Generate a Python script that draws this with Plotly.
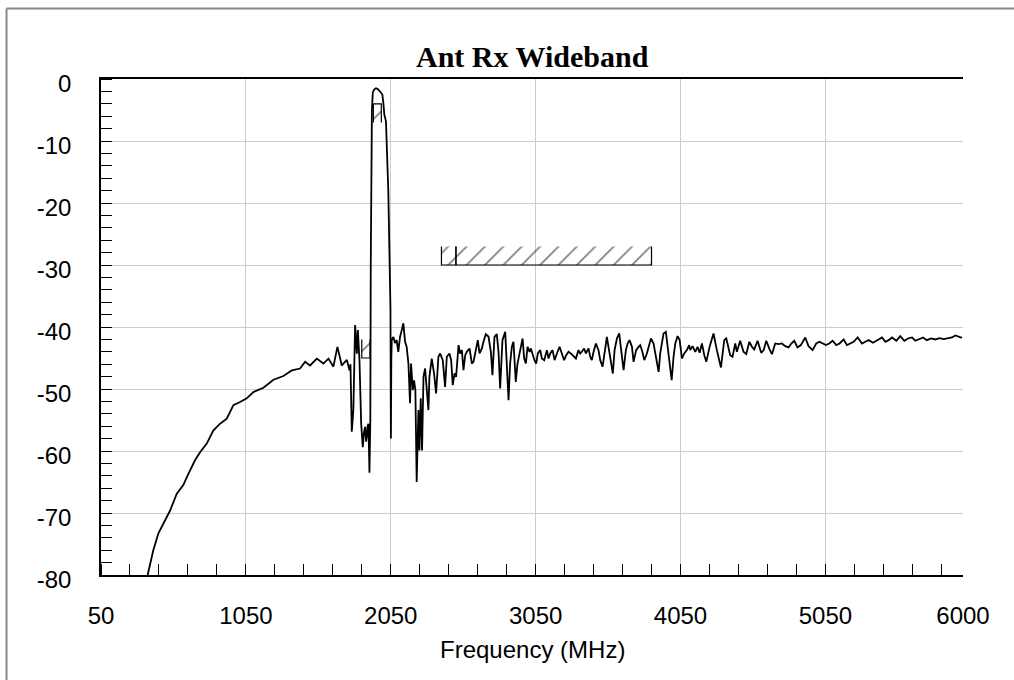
import plotly.graph_objects as go

# ---- measured trace (frequency in MHz, level in dB) ----
freq_mhz = [
    372, 411, 446, 492, 527, 573, 618, 653, 699, 734, 780, 825, 872, 918, 964,
    1010, 1056, 1102, 1171, 1240, 1309, 1367, 1424, 1459, 1493, 1540, 1585, 1620,
    1654, 1682, 1712, 1723, 1747, 1765, 1772, 1781, 1792, 1804, 1816, 1823, 1834,
    1846, 1857, 1865, 1873, 1880, 1885, 1890, 1896, 1903, 1909, 1912, 1916, 1920,
    1926, 1935, 1948, 1960, 1972, 1992, 1999, 2006, 2017, 2033, 2048, 2051, 2054,
    2057, 2068, 2080, 2091, 2102, 2114, 2126, 2137, 2149, 2160, 2172, 2183, 2190,
    2202, 2211, 2220, 2229, 2236, 2241, 2248, 2257, 2266, 2276, 2287, 2299, 2310,
    2317, 2333, 2349, 2363, 2379,
    2391, 2409, 2425, 2437, 2455, 2467, 2478, 2490, 2501, 2518, 2529, 2541, 2552,
    2564, 2575, 2594, 2610, 2621, 2637, 2651, 2663, 2679, 2690, 2706, 2725, 2741,
    2752, 2766, 2782, 2794, 2805, 2821, 2840, 2851, 2863, 2874, 2886, 2897, 2913,
    2925, 2943, 2960, 2971, 2983, 2994, 3008, 3017, 3031, 3042, 3054, 3065, 3082,
    3093, 3109, 3128, 3139, 3151, 3167, 3181, 3197, 3215, 3231, 3247, 3261, 3277,
    3293, 3312, 3328, 3346, 3358, 3369, 3385, 3397, 3415, 3427, 3438, 3450, 3466,
    3484, 3496, 3512, 3526, 3542, 3553, 3570, 3583, 3595, 3611, 3627, 3641, 3657,
    3673, 3685, 3698, 3715, 3726, 3744, 3761, 3772, 3784, 3800, 3818, 3830, 3846,
    3864, 3883, 3899, 3910, 3922, 3933, 3949, 3963, 3975, 3989, 4002, 4014, 4030,
    4044, 4060, 4076, 4094, 4110,
    4117, 4133, 4152, 4168, 4182, 4198, 4214, 4228, 4251, 4278, 4301, 4329, 4352,
    4366, 4393, 4409, 4428, 4439, 4462, 4485, 4504, 4525, 4543, 4559, 4582, 4607,
    4624, 4642, 4665, 4681, 4704, 4727, 4750, 4773, 4796, 4815, 4835, 4858, 4881,
    4911, 4934, 4962, 4987, 5010, 5033, 5054, 5077, 5100, 5125, 5148, 5176, 5199,
    5222, 5245, 5273, 5303, 5326, 5349, 5379, 5406, 5441, 5464, 5487, 5510, 5540,
    5567, 5595, 5620, 5648, 5671, 5701, 5724, 5751, 5779, 5809, 5839, 5867, 5901,
    5924, 5947, 5970, 5993,
]
gain_db = [
    -80.0, -76.0, -73.3, -71.2, -69.6, -66.9, -65.5, -63.7, -61.5, -60.2, -58.8,
    -56.7, -55.6, -54.8, -52.6, -52.1, -51.5, -50.5, -49.8, -48.5, -47.9, -47.0,
    -46.7, -45.6, -46.2, -45.1, -45.9, -45.1, -46.4, -43.2, -46.2, -45.9, -45.3,
    -47.0, -46.0, -56.9, -53.4, -39.7, -44.3, -40.5, -45.3, -55.6, -59.4, -57.0,
    -56.1, -58.5, -57.7, -56.0, -55.6, -63.5, -55.0, -30.0, -10.0, -5.0, -2.2,
    -1.7, -1.5, -1.6, -1.9, -2.5, -3.9, -5.8, -6.8, -18.0, -37.0, -58.0, -45.0,
    -42.1, -41.6, -42.6, -42.1, -44.0, -41.6, -40.5, -39.4, -42.4, -43.2, -45.9,
    -52.3, -45.9, -50.2, -48.6, -50.2, -65.0, -55.0, -53.4, -59.9, -51.5, -59.9,
    -48.0, -46.7, -50.2, -53.4, -48.0, -45.1, -47.5, -50.7, -44.8,
    -44.27, -45.35, -49.66, -44.81, -44.27, -45.35, -49.39, -47.50, -48.04, -42.92,
    -44.27, -43.73, -46.96, -44.54, -44.00, -43.46, -45.89, -45.62, -44.00, -42.12,
    -44.27, -43.46, -42.39, -41.15, -41.58, -44.00, -47.77, -41.58, -41.15, -44.00,
    -49.93, -42.12, -40.77, -45.35, -51.81, -45.89, -43.19, -42.39, -48.85, -45.89,
    -43.73, -41.85, -45.08, -45.89, -43.19, -44.00, -43.46, -44.54, -45.35, -45.89,
    -44.27, -43.73, -45.08, -45.35, -43.73, -45.08, -44.27, -43.73, -45.35, -44.27,
    -43.19, -44.27, -45.35, -44.54, -44.00, -44.27, -44.81, -45.08, -43.73, -44.27,
    -44.00, -43.46, -44.27, -43.46, -44.81, -45.35, -44.00, -42.66, -43.73, -45.35,
    -46.42, -43.73, -41.58, -43.19, -45.89, -47.50, -43.73, -41.85, -41.04, -44.27,
    -46.96, -43.73, -42.66, -42.12, -43.19, -45.62, -43.73, -43.19, -42.92, -43.73,
    -45.35, -44.27, -43.19, -41.85, -42.66, -45.35, -47.23, -44.27, -42.12, -41.04,
    -40.77, -43.73, -46.42, -48.58, -44.81, -42.66, -41.47, -42.12, -45.08, -44.27,
    -43.73, -42.92,
    -43.73, -43.09, -44.00, -43.19, -44.16, -42.66, -44.54, -45.62, -43.19, -41.04,
    -43.73, -46.53, -42.12, -41.85, -44.54, -44.81, -42.66, -44.00, -42.22, -44.00,
    -44.38, -42.39, -43.19, -43.62, -42.22, -44.16, -43.73, -42.22, -43.62, -44.38,
    -42.66, -42.76, -42.66, -43.09, -43.30, -42.66, -42.22, -43.30, -42.92, -41.69,
    -43.09, -43.73, -42.66, -42.39, -42.66, -42.92, -42.66, -42.22, -42.92, -42.66,
    -42.01, -42.92, -42.66, -42.39, -41.69, -42.66, -42.39, -42.12, -42.55, -42.22,
    -41.69, -42.39, -42.12, -41.69, -42.22, -41.47, -42.22, -41.85, -41.69, -42.22,
    -41.85, -41.69, -42.12, -41.85, -42.01, -41.79, -41.95, -41.79, -41.69, -41.36,
    -41.58, -41.74,
]

# ---- limit masks ----
mask_start = [1930, 1850, 2400, 2500]
mask_stop = [1985, 1907, 2500, 3850]
mask_level = [-4, -45, -30, -30]
mask_side = [-1, 1, 1, 1]   # +1: hatched above the limit, -1: below
mask_depth = 3

x_tickvals = [50, 1050, 2050, 3050, 4050, 5050, 6000]
x_ticktext = ["50", "1050", "2050", "3050", "4050", "5050", "6000"]
y_tickvals = [0, -10, -20, -30, -40, -50, -60, -70, -80]
y_ticktext = ["0", "-10", "-20", "-30", "-40", "-50", "-60", "-70", "-80"]

fig = go.Figure()

for a, b, lvl, side in zip(mask_start, mask_stop, mask_level, mask_side):
    edge = lvl + side * mask_depth
    fig.add_trace(go.Scatter(
        x=[a, a, b, b], y=[edge, lvl, lvl, edge],
        mode="lines", fill="toself", fillcolor="rgba(0,0,0,0)",
        fillpattern=dict(shape="/", fgcolor="black", bgcolor="rgba(0,0,0,0)",
                         size=13, solidity=0.13),
        line=dict(color="black", width=1.2),
        hoverinfo="skip", showlegend=False,
    ))

fig.add_trace(go.Scatter(
    x=freq_mhz, y=gain_db, mode="lines",
    line=dict(color="black", width=1.8),
    showlegend=False,
))

tick_font = dict(family="Liberation Sans, Arial, sans-serif", size=24, color="black")

fig.update_layout(
    width=1014, height=680,
    margin=dict(l=101, r=51, t=79, b=105),
    paper_bgcolor="white", plot_bgcolor="white",
    font=tick_font,
    xaxis=dict(
        range=[50, 6000], tickmode="array", tickvals=x_tickvals, ticktext=x_ticktext,
        showgrid=True, gridcolor="#cccccc", gridwidth=1,
        showline=True, linecolor="black", linewidth=1.5, mirror=True,
        zeroline=False,
        ticks="outside", ticklen=18, tickcolor="rgba(0,0,0,0)",
        tickfont=tick_font,
        minor=dict(tickmode="linear", tick0=50, dtick=200, ticks="inside",
                   ticklen=11, tickcolor="black", tickwidth=1, showgrid=False),
    ),
    yaxis=dict(
        range=[-80, 0], tickmode="array", tickvals=y_tickvals, ticktext=y_ticktext,
        showgrid=True, gridcolor="#cccccc", gridwidth=1,
        showline=True, linecolor="black", linewidth=1.5,
        zeroline=False,
        ticks="outside", ticklen=23, tickcolor="rgba(0,0,0,0)",
        tickfont=tick_font, ticklabelshift=5,
        minor=dict(tickmode="linear", tick0=0, dtick=2, ticks="inside",
                   ticklen=11, tickcolor="black", tickwidth=1, showgrid=False),
    ),
    annotations=[
        dict(text="<b>Ant Rx Wideband</b>", xref="paper", yref="paper",
             x=0.5, y=1.045, xanchor="center", yanchor="middle", showarrow=False,
             font=dict(family="Liberation Serif, Times New Roman, serif", size=30, color="black")),
        dict(text="Frequency (MHz)", xref="paper", yref="paper",
             x=0.5, y=-0.150, xanchor="center", yanchor="middle", showarrow=False,
             font=dict(family="Liberation Sans, Arial, sans-serif", size=24, color="black")),
    ],
    shapes=[
        dict(type="line", xref="paper", yref="paper", x0=-0.1096, x1=-0.1096,
             y0=-0.4, y1=1.142, line=dict(color="#888888", width=2)),
        dict(type="line", xref="paper", yref="paper", x0=-0.1096, x1=1.2,
             y0=1.142, y1=1.142, line=dict(color="#888888", width=2)),
    ],
)

fig.write_html("out.html", config={"displayModeBar": False},
               post_script="document.body.style.margin='0px';")
